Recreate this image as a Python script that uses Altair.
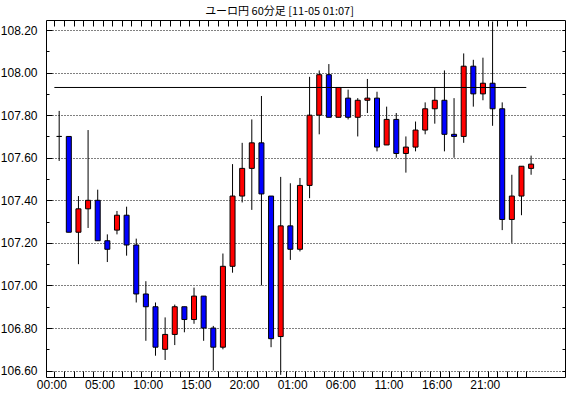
import json
import altair as alt
import pandas as pd

# ---- data (EUR/JPY hourly candles) ----
opens  = [107.70, 107.70, 107.25, 107.36, 107.40, 107.21, 107.26, 107.33, 107.19, 106.96,
          106.90, 106.70, 106.77, 106.90, 106.84, 106.95, 106.80, 106.71, 107.09, 107.42,
          107.55, 107.67, 107.42, 106.76, 107.28, 107.17, 107.47, 107.80, 107.99, 107.79,
          107.88, 107.79, 107.87, 107.88, 107.66, 107.78, 107.62, 107.65, 107.73, 107.83,
          107.87, 107.71, 107.70, 108.03, 107.90, 107.95, 107.83, 107.31, 107.42, 107.55]
highs  = [107.82, 107.70, 107.42, 107.73, 107.45, 107.24, 107.35, 107.37, 107.22, 107.02,
          106.92, 106.85, 106.91, 106.90, 106.99, 106.95, 106.81, 107.15, 107.57, 107.67,
          107.78, 107.89, 107.42, 107.51, 107.48, 107.505, 107.98, 108.01, 108.04, 107.93,
          107.92, 107.88, 107.97, 107.91, 107.84, 107.81, 107.70, 107.77, 107.86, 107.93,
          108.01, 107.88, 108.09, 108.06, 108.07, 108.24, 107.86, 107.52, 107.56, 107.61]
lows   = [107.585, 107.25, 107.10, 107.27, 107.21, 107.11, 107.24, 107.14, 106.92, 106.74,
          106.67, 106.65, 106.72, 106.78, 106.82, 106.74, 106.60, 106.70, 107.06, 107.39,
          107.355, 107.00, 106.71, 106.58, 107.12, 107.16, 107.41, 107.71, 107.79, 107.79,
          107.78, 107.70, 107.81, 107.63, 107.66, 107.60, 107.53, 107.63, 107.71, 107.76,
          107.63, 107.60, 107.67, 107.84, 107.87, 107.75, 107.26, 107.20, 107.33, 107.52]
closes = [107.70, 107.25, 107.36, 107.40, 107.21, 107.17, 107.33, 107.19, 106.96, 106.90,
          106.71, 106.77, 106.90, 106.84, 106.95, 106.80, 106.71, 107.09, 107.42, 107.55,
          107.67, 107.43, 106.75, 107.28, 107.17, 107.47, 107.80, 107.99, 107.79, 107.93,
          107.79, 107.87, 107.88, 107.65, 107.78, 107.62, 107.65, 107.73, 107.83, 107.87,
          107.71, 107.70, 108.03, 107.90, 107.95, 107.83, 107.31, 107.42, 107.56, 107.57]

hour_tick_values = [0, 5, 10, 15, 20, 25, 30, 35, 40, 45]
hour_tick_labels = ["00:00", "05:00", "10:00", "15:00", "20:00",
                    "01:00", "06:00", "11:00", "16:00", "21:00"]
price_labels = [106.6, 106.8, 107.0, 107.2, 107.4, 107.6, 107.8, 108.0, 108.2]
price_minor = [106.6, 106.7, 106.8, 106.9, 107.0, 107.1, 107.2, 107.3, 107.4,
               107.5, 107.6, 107.7, 107.8, 107.9, 108.0, 108.1, 108.2]
ref_level = 107.93
title_text = "ユーロ円 60分足 [11-05 01:07]"

n = len(opens)
df = pd.DataFrame({
    "slot": list(range(n)),
    "open": opens, "high": highs, "low": lows, "close": closes,
})
df["mid"] = df["slot"] + 0.5
df["dir"] = ["up" if c > o else ("down" if c < o else "flat") for o, c in zip(opens, closes)]

level_df = pd.DataFrame({"start": [0], "end": [n - 1], "level": [ref_level]})

slot_ticks = list(range(n))
xs = alt.Scale(domain=[-0.35, 52.5], nice=False, zero=False)
ys = alt.Scale(domain=[106.570, 108.247], nice=False, zero=False)

num_font = "Liberation Sans Narrow, Arial Narrow, Liberation Sans, Arial, sans-serif"

x_label_expr = ("datum.value % 5 == 0 ? " + json.dumps(hour_tick_labels)
                + "[round(datum.value / 5)] : ''")

wicks = alt.Chart(df).mark_rule(color="black", strokeWidth=1).encode(
    x=alt.X("mid:Q", scale=xs, axis=alt.Axis(
        orient="bottom", values=slot_ticks, labelExpr=x_label_expr,
        offset=-6, tickSize=6, tickColor="black", tickWidth=1, domain=False, grid=False,
        labelOffset=-3, labelPadding=2, labelFont=num_font, labelFontSize=12,
        labelColor="black", labelAngle=0, labelOverlap=False, labelFlush=False,
        labelBound=False, title=None)),
    y=alt.Y("low:Q", scale=ys, axis=alt.Axis(
        orient="left", values=price_labels, format=".2f",
        offset=-6, tickSize=6, tickColor="black", tickWidth=1, domain=False,
        grid=True, gridDash=[1, 2], gridColor="black", gridOpacity=1, gridWidth=1,
        labelPadding=9, labelFont=num_font, labelFontSize=12, labelColor="black",
        labelOverlap=False, labelFlush=False, labelBound=False, title=None)),
    y2="high:Q",
)

bodies = alt.Chart(df).mark_bar(size=5, stroke="black", strokeWidth=1).encode(
    x=alt.X("mid:Q", scale=xs, axis=alt.Axis(
        orient="top", values=slot_ticks, labels=False, offset=-6, tickSize=6,
        tickColor="black", domain=False, grid=False, title=None)),
    y=alt.Y("open:Q", scale=ys, axis=alt.Axis(
        orient="left", values=price_minor, labels=False, offset=-3, tickSize=3,
        tickColor="black", domain=False, grid=False, title=None)),
    y2="close:Q",
    color=alt.Color("dir:N", scale=alt.Scale(domain=["up", "down", "flat"],
                                             range=["#ff0000", "#0000ff", "#000000"]),
                    legend=None),
)

hline = alt.Chart(level_df).mark_rule(color="black", strokeWidth=1).encode(
    x=alt.X("start:Q", scale=xs, axis=None),
    x2="end:Q",
    y=alt.Y("level:Q", scale=ys, axis=alt.Axis(
        orient="right", values=price_minor, labels=False, offset=-3, tickSize=3,
        tickColor="black", domain=False, grid=False, title=None)),
)

chart = alt.layer(wicks, bodies, hline).resolve_axis(
    x="independent", y="independent"
).properties(
    width=519, height=357,
    padding={"left": 46, "top": 20, "right": 5, "bottom": 21},
    autosize=alt.AutoSizeParams(type="none"),
    background="white",
    title=alt.Title(title_text, font="Noto Sans CJK JP", fontSize=11, fontWeight="normal",
                    color="black", anchor="middle", dx=-26, offset=-6, baseline="alphabetic"),
).configure_view(stroke="black", strokeWidth=1)

chart.save("out.html", embed_options={"renderer": "svg", "actions": False})
